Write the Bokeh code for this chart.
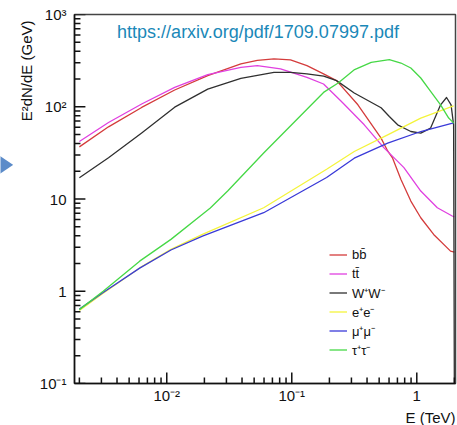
import math
from bokeh.plotting import figure
from bokeh.layouts import row
from bokeh.models import Range1d, FixedTicker, Label, Title
from bokeh.embed import file_html
from bokeh.resources import INLINE

# ---------------- data ----------------
# E in TeV, E^2 dN/dE in GeV
bb_E = [0.002, 0.00342, 0.0063, 0.01157, 0.02127, 0.03916, 0.0530, 0.072, 0.0977, 0.1322, 0.1795, 0.228,
        0.338, 0.518, 0.585, 0.641, 0.747, 0.896, 1.076, 1.364, 1.862, 2.0]
bb_Y = [36.7, 60.6, 98.3, 152, 217, 291, 318, 330, 322, 279, 227, 192,
        105, 45.7, 33.2, 27.7, 16.3, 9.5, 6.26, 4.13, 2.72, 2.66]

tt_E = [0.002, 0.00342, 0.0063, 0.01157, 0.02127, 0.03916, 0.0530, 0.0813, 0.1322, 0.1795, 0.2496,
        0.38, 0.547, 0.789, 1.076, 1.46, 1.92, 2.0]
tt_Y = [42.0, 67.5, 107, 162, 223, 267, 279, 257, 208, 176.5, 114,
        63.7, 35.8, 21.9, 12.2, 8.04, 6.54, 6.4]

ww_E = [0.002, 0.00342, 0.0063, 0.01157, 0.02127, 0.03916, 0.072, 0.0977, 0.1322, 0.180, 0.228, 0.316,
        0.518, 0.603, 0.703, 0.896, 1.076, 1.29, 1.55, 1.73, 1.88, 1.97, 2.0]
ww_Y = [17.0, 28.0, 52.0, 99.0, 155, 203, 236, 236, 227, 215, 192, 141,
        97.5, 78.5, 63.7, 53.9, 51.8, 58.7, 105, 126, 105, 63.7, 0.05]

ee_E = [0.002, 0.0031, 0.00607, 0.0108, 0.0193, 0.0596, 0.19, 0.316, 0.585, 1.076, 1.97]
ee_Y = [0.62, 0.95, 1.79, 2.84, 4.13, 8.04, 21.0, 32.7, 49.6, 75.4, 102]

mm_E = [0.002, 0.0031, 0.00607, 0.0108, 0.0193, 0.0596, 0.19, 0.316, 0.585, 1.076, 1.97]
mm_Y = [0.64, 0.97, 1.78, 2.80, 3.96, 7.1, 17.1, 27.7, 40.3, 53.9, 67.0]

tau_E = [0.002, 0.0031, 0.00607, 0.0108, 0.0193, 0.0223, 0.0307, 0.0596, 0.1795, 0.235, 0.318, 0.432,
         0.603, 0.747, 0.896, 1.076, 1.29, 1.55, 1.80, 1.98]
tau_Y = [0.632, 1.0, 2.12, 3.65, 6.82, 8.0, 12.2, 31.5, 143, 181, 253, 303,
         324, 298, 263, 205, 147, 105, 75.4, 66.5]

series_labels = ["bb\u0304", "tt\u0304", "W\u207aW\u207b", "e\u207ae\u207b", "\u03bc\u207a\u03bc\u207b", "\u03c4\u207a\u03c4\u207b"]
series_colors = ["#d43c3c", "#e040e0", "#303030", "#f4f43c", "#3a3ad8", "#46d846"]

x_major = [0.01, 0.1, 1]
x_major_labels = ["10\u207b\u00b2", "10\u207b\u00b9", "1"]
y_major = [0.1, 1, 10, 100, 1000]
y_major_labels = ["10\u207b\u00b9", "1", "10", "10\u00b2", "10\u00b3"]

url_text = "https://arxiv.org/pdf/1709.07997.pdf"
x_title = "E (TeV)"
y_title = "E\u00b2dN/dE (GeV)"

# ---------------- figure ----------------
XMIN, XMAX = 1.828e-3, 2.04
YMIN, YMAX = 0.1, 1000.0
FRAME_W, FRAME_H = 384, 370
FONT = "Liberation Sans"
INK = "#111111"

p = figure(width=444, height=425, x_axis_type="log", y_axis_type="log",
           x_range=Range1d(XMIN, XMAX), y_range=Range1d(YMIN, YMAX),
           output_backend="svg", toolbar_location=None,
           min_border_left=58, min_border_right=2, min_border_top=14, min_border_bottom=41)
p.background_fill_color = "white"
p.border_fill_color = "white"
p.grid.visible = False
p.outline_line_color = "#444444"
p.outline_line_width = 1.5

x_minor = [k * 10.0 ** d for d in range(-3, 1) for k in range(2, 10) if XMIN <= k * 10.0 ** d <= XMAX]
y_minor = [k * 10.0 ** d for d in range(-1, 3) for k in range(2, 10)]

p.xaxis.ticker = FixedTicker(ticks=x_major, minor_ticks=[])
p.yaxis.ticker = FixedTicker(ticks=y_major, minor_ticks=[])
p.xaxis.major_label_overrides = {v: s for v, s in zip(x_major, x_major_labels)}
p.yaxis.major_label_overrides = {v: s for v, s in zip(y_major, y_major_labels)}

for ax in (p.xaxis, p.yaxis):
    ax.axis_line_color = INK
    ax.axis_line_width = 1.5
    ax.major_tick_in = 0
    ax.major_tick_out = 0
    ax.minor_tick_in = 0
    ax.minor_tick_out = 0
    ax.major_label_text_font = FONT
    ax.major_label_text_font_size = "15px"
    ax.major_label_text_color = INK
p.xaxis.major_label_standoff = 3
p.yaxis.major_label_standoff = 8

all_E = [bb_E, tt_E, ww_E, ee_E, mm_E, tau_E]
all_Y = [bb_Y, tt_Y, ww_Y, ee_Y, mm_Y, tau_Y]
for E, Y, lab, col in zip(all_E, all_Y, series_labels, series_colors):
    p.line(E, Y, line_color=col, line_width=1.3, line_join="round", legend_label=lab)

# inward tick marks drawn inside the frame, one short line per tick (length in px -> log factor)
dec_x = math.log10(XMAX / XMIN) / FRAME_W
dec_y = math.log10(YMAX / YMIN) / FRAME_H
for ticks, L in ((y_major, 11), (y_minor, 6)):
    x_in = XMIN * 10 ** (L * dec_x)
    for v in ticks:
        p.line([XMIN * 0.999, x_in], [v, v], line_color=INK, line_width=1.5)
for ticks, L in ((x_major, 11), (x_minor, 6)):
    y_in = YMIN * 10 ** (L * dec_y)
    for v in ticks:
        p.line([v, v], [YMIN * 0.999, y_in], line_color=INK, line_width=1.5)

lg = p.legend[0]
lg.location = (255, 24)
lg.padding = 0
lg.margin = 0
lg.spacing = 0
lg.glyph_width = 18
lg.glyph_height = 19
lg.label_height = 19
lg.label_standoff = 5
lg.label_text_font = FONT
lg.label_text_font_size = "13px"
lg.label_text_color = INK
lg.border_line_color = None
lg.background_fill_alpha = 0

# texts
p.add_layout(Label(x=0.0537, y=645, text=url_text, text_font=FONT, text_font_size="18px",
                   text_color="#1a88b8", text_align="center", text_baseline="alphabetic"))
p.add_layout(Title(text=x_title, align="right", text_font=FONT, text_font_size="15px",
                   text_font_style="normal", text_color=INK, standoff=0), "below")
p.add_layout(Title(text=y_title, align="right", text_font=FONT, text_font_size="15px",
                   text_font_style="normal", text_color=INK, standoff=4, offset=6), "left")

# decorative slide arrow at the far left (separate narrow strip, pixel coordinates from the top)
arrow = figure(width=13, height=425, x_range=Range1d(0, 13), y_range=Range1d(425, 0),
               output_backend="svg", toolbar_location=None,
               x_axis_location=None, y_axis_location=None, min_border=0)
arrow.grid.visible = False
arrow.outline_line_color = None
arrow.border_fill_color = "white"
arrow.patch(x=[-3, 12.7, -3], y=[161, 173.3, 185.5], fill_color="#5b8bc9", line_color=None)

layout = row(arrow, p)
open("out.html", "w").write(file_html(layout, INLINE))
